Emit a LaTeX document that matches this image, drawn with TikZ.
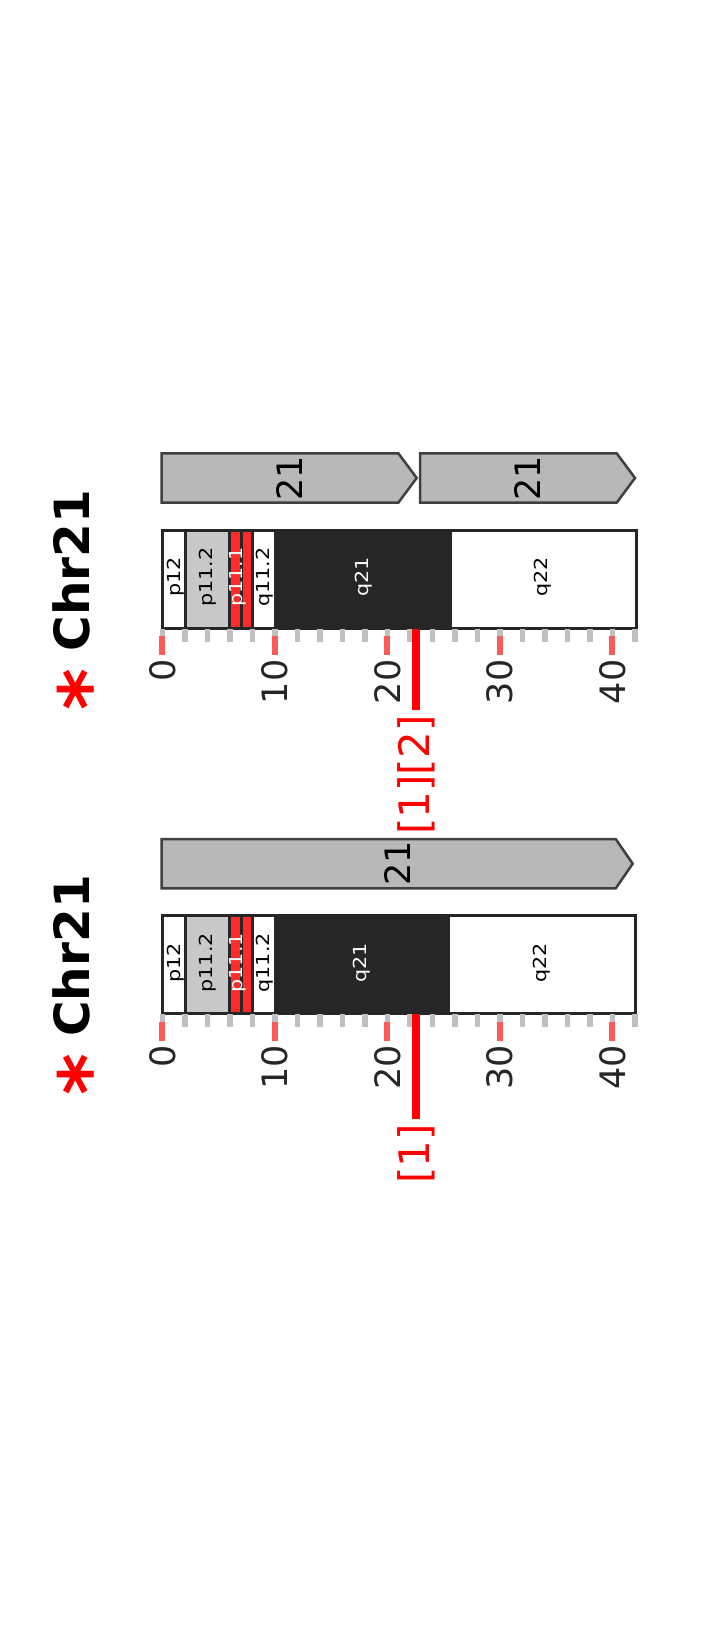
\documentclass[tikz,border=0pt]{standalone}
\usepackage{fontspec}
\setmainfont{DejaVu Sans}
\usetikzlibrary{positioning, calc}

\definecolor{bandgray}{RGB}{200,200,200}
\definecolor{bandred}{RGB}{255,42,42}
\definecolor{bandblack}{RGB}{38,38,38}
\definecolor{featgray}{RGB}{184,184,184}
\definecolor{featedge}{RGB}{64,64,64}
\definecolor{tickgray}{RGB}{192,192,192}
\definecolor{tickred}{RGB}{255,90,90}
\definecolor{axisgray}{RGB}{38,38,38}

\begin{document}
\begin{tikzpicture}[
    x=1pt, y=-1pt,
    band/.style={draw=bandblack, line width=3pt},
    bandlabel/.style={rotate=90, xscale=1.15, inner sep=0pt, font=\fontsize{18}{21}\selectfont},
    feature/.style={fill=featgray, draw=featedge, line width=2.5pt},
    featlabel/.style={rotate=90, inner sep=0pt, font=\fontsize{35}{40}\selectfont},
    minortick/.style={draw=tickgray, line width=5.5pt},
    majortick/.style={draw=tickred, line width=6pt},
    ticklabel/.style={rotate=90, anchor=east, inner sep=0pt, text=axisgray, font=\fontsize{35}{40}\selectfont},
    hitline/.style={draw=red, line width=8pt},
    reflabel/.style={rotate=90, anchor=east, inner sep=0pt, outer xsep=5.5pt, text=red, font=\fontsize{42}{48}\selectfont},
    chrtitle/.style={rotate=90, inner sep=0pt, font=\bfseries\fontsize{48.5}{58}\selectfont},
    starmark/.style={rotate=90, anchor=base, inner sep=0pt, text=red, font=\bfseries\fontsize{80}{90}\selectfont}
]
    \useasboundingbox[fill=white] (0,0) rectangle (713,1640);

    % Upper panel
    \begin{scope}[shift={(0,530)}]
        % Title
        \node[chrtitle] (titleA) at (71.7,40.5) {Chr21};
        \node[starmark] (starA) at (116,160) {*};

        % Features
        \draw[feature] (161.7,-76.7) -- (398.3,-76.7) -- (416.7,-52) -- (398.3,-27.3) -- (161.7,-27.3) -- cycle;
        \node[featlabel] (featA1) at (289.2,-52) {21};
        \draw[feature] (420,-76.7) -- (616.7,-76.7) -- (635,-52) -- (616.7,-27.3) -- (420,-27.3) -- cycle;
        \node[featlabel] (featA2) at (528,-52) {21};

        % Bands
        \filldraw[band, fill=white] (162.3,0) rectangle (185,98);
        \filldraw[band, fill=bandgray] (185,0) rectangle (229.3,98);
        \filldraw[band, fill=bandred] (229.3,0) rectangle (241.3,98);
        \filldraw[band, fill=bandred] (241.3,0) rectangle (252.3,98);
        \filldraw[band, fill=white] (252.3,0) rectangle (275.7,98);
        \filldraw[band, fill=bandblack] (275.7,0) rectangle (450.7,98);
        \filldraw[band, fill=white] (450.7,0) rectangle (636,98);
        \node[bandlabel] (bandA1) at (175.5,47) {p12};
        \node[bandlabel] (bandA2) at (208,47) {p11.2};
        \node[bandlabel, text=white] (bandA3) at (237.5,47) {p11.1};
        \node[bandlabel] (bandA4) at (264.8,47) {q11.2};
        \node[bandlabel, text=white] (bandA5) at (363.3,47) {q21};
        \node[bandlabel] (bandA6) at (543,47) {q22};

        % Ticks
        \foreach \u in {0,2,...,42}
            \draw[minortick] ({162.3+11.25*\u},98.5) -- ++(0,13);
        \foreach \u in {0,10,...,40} {
            \draw[majortick] ({162.3+11.25*\u},106) -- ++(0,19);
            \node[ticklabel] (tickA\u) at ({162.3+11.25*\u},129.5) {\u};
        }

        % Hit
        \coordinate (hitA) at (416.3,98.5);
        \node[reflabel] (refA) at (416.3,180) {[1][2]};
        \draw[hitline] (hitA) -- (refA);
    \end{scope}

    % Lower panel
    \begin{scope}[shift={(0,915.7)}]
        % Title
        \node[chrtitle] (titleB) at (71.7,40.2) {Chr21};
        \node[starmark] (starB) at (116,159) {*};

        % Features
        \draw[feature] (161.7,-76.7) -- (615.7,-76.7) -- (632.7,-52) -- (615.7,-27.3) -- (161.7,-27.3) -- cycle;
        \node[featlabel] (featB1) at (397.2,-52) {21};

        % Bands
        \filldraw[band, fill=white] (162.3,0) rectangle (185,98);
        \filldraw[band, fill=bandgray] (185,0) rectangle (229.3,98);
        \filldraw[band, fill=bandred] (229.3,0) rectangle (241.3,98);
        \filldraw[band, fill=bandred] (241.3,0) rectangle (252.3,98);
        \filldraw[band, fill=white] (252.3,0) rectangle (275.7,98);
        \filldraw[band, fill=bandblack] (275.7,0) rectangle (448.3,98);
        \filldraw[band, fill=white] (448.3,0) rectangle (635,98);
        \node[bandlabel] (bandB1) at (175.5,47) {p12};
        \node[bandlabel] (bandB2) at (208,47) {p11.2};
        \node[bandlabel, text=white] (bandB3) at (237.5,47) {p11.1};
        \node[bandlabel] (bandB4) at (264.8,47) {q11.2};
        \node[bandlabel, text=white] (bandB5) at (362,47) {q21};
        \node[bandlabel] (bandB6) at (541.7,47) {q22};

        % Ticks
        \foreach \u in {0,2,...,42}
            \draw[minortick] ({162.3+11.25*\u},98.5) -- ++(0,13);
        \foreach \u in {0,10,...,40} {
            \draw[majortick] ({162.3+11.25*\u},106) -- ++(0,19);
            \node[ticklabel] (tickB\u) at ({162.3+11.25*\u},129.5) {\u};
        }

        % Hit
        \coordinate (hitB) at (416.3,98.5);
        \node[reflabel] (refB) at (416.3,203) {[1]};
        \draw[hitline] (hitB) -- (refB);
    \end{scope}
\end{tikzpicture}
\end{document}
